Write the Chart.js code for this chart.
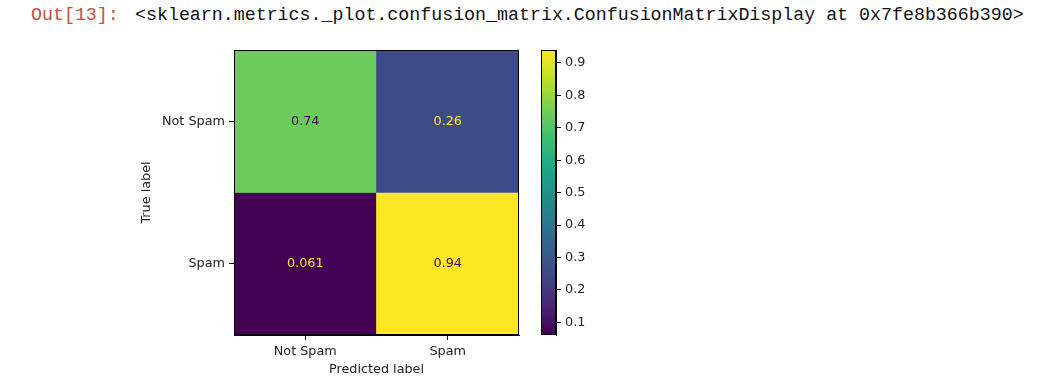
<!DOCTYPE html>
<html>
<head>
<meta charset="utf-8">
<script src="https://cdn.jsdelivr.net/npm/chart.js@4.4.1/dist/chart.umd.min.js"></script>
<style>
  body { margin: 0; background: #fff; width: 1057px; height: 381px; overflow: hidden; position: relative; }
  .out { position: absolute; top: 4px; line-height: 22px; font-family: "Liberation Mono", monospace; font-size: 18.3px; white-space: pre; }
  #prompt { left: 31px; color: #c4513d; }
  #repr { left: 135px; color: #111; }
  .box { position: absolute; top: 0; height: 381px; }
</style>
</head>
<body>
<div class="out" id="prompt">Out[13]:</div>
<div class="out" id="repr">&lt;sklearn.metrics._plot.confusion_matrix.ConfusionMatrixDisplay at 0x7fe8b366b390&gt;</div>
<div class="box" style="left:0;width:1057px"><canvas id="matrix"></canvas></div>
<div class="box" style="left:520px;width:100px"><canvas id="colorbar"></canvas></div>
<script>
// labels
const predictedLabels = ['Not Spam', 'Spam'];
const trueLabels = ['Not Spam', 'Spam'];

// normalized confusion matrix, one array per true label
const rowNotSpam = [0.74, 0.26];
const rowSpam = [0.061, 0.94];

const colorbarTicks = [0.1, 0.2, 0.3, 0.4, 0.5, 0.6, 0.7, 0.8, 0.9];

const rows = [rowNotSpam, rowSpam];
const allValues = rows.flat();
const vmin = Math.min(...allValues);
const vmax = Math.max(...allValues);

// viridis colormap stops
const viridisStops = ['#440154', '#482475', '#414487', '#355f8d', '#2a788e',
    '#21918c', '#22a884', '#44bf70', '#7ad151', '#bddf26', '#fde725'];

function hexToRgb(h) {
    return [1, 3, 5].map(i => parseInt(h.substr(i, 2), 16));
}

function viridis(t) {
    t = Math.max(0, Math.min(1, t));
    const pos = t * (viridisStops.length - 1);
    const i = Math.min(Math.floor(pos), viridisStops.length - 2);
    const f = pos - i;
    const a = hexToRgb(viridisStops[i]);
    const b = hexToRgb(viridisStops[i + 1]);
    const c = a.map((v, k) => Math.round(v + (b[k] - v) * f));
    return `rgb(${c[0]}, ${c[1]}, ${c[2]})`;
}

const norm = v => (v - vmin) / (vmax - vmin);

Chart.defaults.font.family = 'DejaVu Sans';
Chart.defaults.font.size = 12.8;
Chart.defaults.color = '#222';

// black frame around the plot area (all four spines)
const framePlugin = {
    id: 'frame',
    afterDraw(chart) {
        const { ctx, chartArea: a } = chart;
        ctx.save();
        ctx.strokeStyle = '#000';
        ctx.lineWidth = 1;
        ctx.strokeRect(Math.round(a.left) + 0.5, Math.round(a.top) + 0.5,
            Math.round(a.right - a.left) - 1, Math.round(a.bottom - a.top) - 1);
        ctx.restore();
    }
};

// value text in the centre of every cell
const cellTextPlugin = {
    id: 'cellText',
    afterDatasetsDraw(chart) {
        const { ctx, scales } = chart;
        const thresh = (vmin + vmax) / 2;
        ctx.save();
        ctx.font = '12.8px "DejaVu Sans"';
        ctx.textAlign = 'center';
        ctx.textBaseline = 'middle';
        rows.forEach((row, i) => {
            row.forEach((v, j) => {
                ctx.fillStyle = v < thresh ? viridis(1) : viridis(0);
                const x = scales.x.getPixelForValue(j);
                const y = scales.y.getPixelForValue(i + 0.5);
                ctx.fillText(String(Number(v.toPrecision(2))), x, y);
            });
        });
        ctx.restore();
    }
};

new Chart(document.getElementById('matrix'), {
    type: 'bar',
    data: {
        labels: predictedLabels,
        datasets: rows.map((row, i) => ({
            data: row.map(() => [i, i + 1]),
            backgroundColor: row.map(v => viridis(norm(v))),
            borderWidth: 0,
            barPercentage: 1,
            categoryPercentage: 1,
            grouped: false
        }))
    },
    options: {
        responsive: true,
        maintainAspectRatio: false,
        animation: false,
        layout: { padding: { left: 139, top: 50, right: 538, bottom: 4 } },
        plugins: { legend: { display: false }, tooltip: { enabled: false } },
        scales: {
            x: {
                type: 'category',
                offset: true,
                grid: { offset: false, drawOnChartArea: false, tickLength: 5, tickColor: '#000' },
                border: { color: '#000' },
                ticks: { padding: 4, color: '#222', maxRotation: 0 },
                title: { display: true, text: 'Predicted label', padding: 0, color: '#222' },
                afterFit: s => { s.height = 42; }
            },
            y: {
                type: 'linear',
                min: 0,
                max: 2,
                reverse: true,
                grid: { drawOnChartArea: false, tickLength: 5, tickColor: '#000' },
                border: { color: '#000' },
                ticks: { padding: 4, color: '#222', callback: v => trueLabels[Math.floor(v)] },
                afterBuildTicks: s => { s.ticks = trueLabels.map((_, i) => ({ value: i + 0.5 })); },
                title: { display: true, text: 'True label', padding: 0, color: '#222' },
                afterFit: s => { s.width = 95; }
            }
        }
    },
    plugins: [cellTextPlugin, framePlugin]
});

// colorbar
function colorbarFill(ctx) {
    const area = ctx.chart.chartArea;
    if (!area) return viridis(0.5);
    const g = ctx.chart.ctx.createLinearGradient(0, area.bottom, 0, area.top);
    viridisStops.forEach((c, i) => g.addColorStop(i / (viridisStops.length - 1), c));
    return g;
}

new Chart(document.getElementById('colorbar'), {
    type: 'bar',
    data: {
        labels: [''],
        datasets: [{
            data: [[vmin, vmax]],
            backgroundColor: colorbarFill,
            borderWidth: 0,
            barPercentage: 1,
            categoryPercentage: 1
        }]
    },
    options: {
        responsive: true,
        maintainAspectRatio: false,
        animation: false,
        layout: { padding: { left: 21, top: 50, right: 24, bottom: 46 } },
        plugins: { legend: { display: false }, tooltip: { enabled: false } },
        scales: {
            x: { display: false },
            y: {
                position: 'right',
                min: vmin,
                max: vmax,
                grid: { drawOnChartArea: false, tickLength: 5, tickColor: '#000' },
                border: { color: '#000' },
                ticks: { padding: 4, color: '#222', callback: v => v.toFixed(1) },
                afterBuildTicks: s => { s.ticks = colorbarTicks.map(v => ({ value: v })); },
                afterFit: s => { s.width = 40; }
            }
        }
    },
    plugins: [framePlugin]
});
</script>
</body>
</html>
